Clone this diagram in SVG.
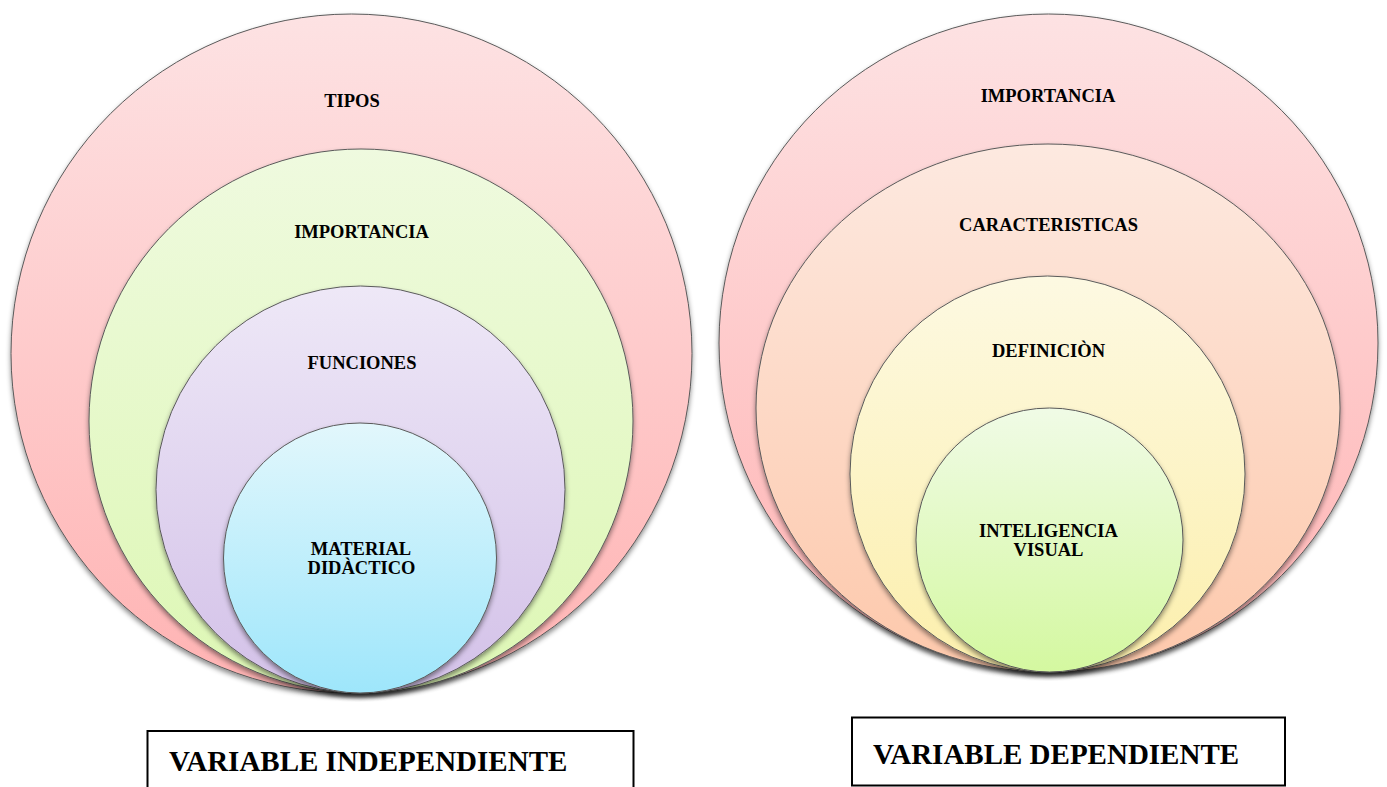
<svg xmlns="http://www.w3.org/2000/svg" width="1387" height="787" viewBox="0 0 1387 787">
<defs>
<linearGradient id="gPink" x1="0" y1="0" x2="0" y2="1"><stop offset="0" stop-color="#fde2e3"/><stop offset="1" stop-color="#ffb3b3"/></linearGradient>
<linearGradient id="gGreen" x1="0" y1="0" x2="0" y2="1"><stop offset="0" stop-color="#effadf"/><stop offset="1" stop-color="#ddf7b4"/></linearGradient>
<linearGradient id="gPurple" x1="0" y1="0" x2="0" y2="1"><stop offset="0" stop-color="#eee8f7"/><stop offset="1" stop-color="#d3c1e8"/></linearGradient>
<linearGradient id="gCyan" x1="0" y1="0" x2="0" y2="1"><stop offset="0" stop-color="#e2f7fc"/><stop offset="1" stop-color="#9ee6fb"/></linearGradient>
<linearGradient id="gPeach" x1="0" y1="0" x2="0" y2="1"><stop offset="0" stop-color="#fde9e0"/><stop offset="1" stop-color="#fdc8ab"/></linearGradient>
<linearGradient id="gYellow" x1="0" y1="0" x2="0" y2="1"><stop offset="0" stop-color="#fdf9e2"/><stop offset="1" stop-color="#fcefac"/></linearGradient>
<linearGradient id="gLime" x1="0" y1="0" x2="0" y2="1"><stop offset="0" stop-color="#f0fbe6"/><stop offset="1" stop-color="#d4f8a0"/></linearGradient>
<filter id="sh" x="-10%" y="-10%" width="120%" height="125%"><feDropShadow dx="0" dy="3" stdDeviation="2.5" flood-color="#000" flood-opacity="0.45"/></filter>
<style>
.ring{stroke:#5a5a5a;stroke-width:1;filter:url(#sh);}
.lbl{font-family:"Liberation Serif","Times New Roman",serif;font-weight:bold;font-size:18.5px;fill:#000;text-anchor:middle;}
.box{fill:#fff;stroke:#000;stroke-width:2;}
.big{font-family:"Liberation Serif","Times New Roman",serif;font-weight:bold;font-size:29px;fill:#000;}
</style>
</defs>
<g id="left-set">
<g id="l-tipos"><ellipse class="ring" cx="351.5" cy="353.5" rx="340.5" ry="339.5" fill="url(#gPink)"/><text class="lbl" x="352" y="106.5">TIPOS</text></g>
<g id="l-importancia"><ellipse class="ring" cx="361" cy="421" rx="272" ry="272" fill="url(#gGreen)"/><text class="lbl" x="361.5" y="238">IMPORTANCIA</text></g>
<g id="l-funciones"><ellipse class="ring" cx="360.5" cy="489.5" rx="204.5" ry="203.5" fill="url(#gPurple)"/><text class="lbl" x="362" y="369">FUNCIONES</text></g>
<g id="l-material"><ellipse class="ring" cx="360" cy="558" rx="136.5" ry="135" fill="url(#gCyan)"/><text class="lbl" x="361" y="555">MATERIAL</text><text class="lbl" x="361.5" y="574">DIDÀCTICO</text></g>
</g>
<g id="right-set">
<g id="r-importancia"><ellipse class="ring" cx="1048.5" cy="343" rx="329.5" ry="329" fill="url(#gPink)"/><text class="lbl" x="1048" y="102">IMPORTANCIA</text></g>
<g id="r-caracteristicas"><ellipse class="ring" cx="1048" cy="408" rx="292" ry="264" fill="url(#gPeach)"/><text class="lbl" x="1048.5" y="231">CARACTERISTICAS</text></g>
<g id="r-definicion"><ellipse class="ring" cx="1047.5" cy="474" rx="197.5" ry="198" fill="url(#gYellow)"/><text class="lbl" x="1048.5" y="357">DEFINICIÒN</text></g>
<g id="r-inteligencia"><ellipse class="ring" cx="1049.5" cy="540" rx="133.5" ry="132" fill="url(#gLime)"/><text class="lbl" x="1048.5" y="537">INTELIGENCIA</text><text class="lbl" x="1048.5" y="556">VISUAL</text></g>
</g>
<g id="connectors"></g>
<g id="box-independiente"><rect class="box" x="147.5" y="731" width="486" height="70"/><text class="big" x="169" y="770.5">VARIABLE INDEPENDIENTE</text></g>
<g id="box-dependiente"><rect class="box" x="852" y="717.5" width="433" height="68"/><text class="big" x="873" y="764">VARIABLE DEPENDIENTE</text></g>
</svg>
